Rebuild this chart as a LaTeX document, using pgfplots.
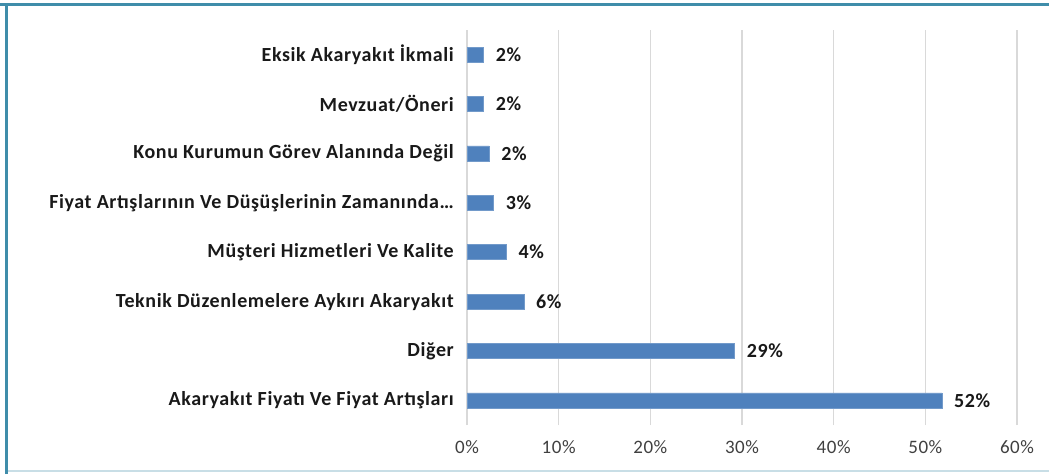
\documentclass[border=0pt]{standalone}
\usepackage{pgfplots}
\pgfplotsset{compat=1.18}
\usepackage{fontspec}
\setmainfont{Carlito}
\newfontfamily\labfont[LetterSpace=3]{Carlito}
\definecolor{barblue}{HTML}{4F81BD}
\definecolor{frameteal}{HTML}{3F8DAA}
\definecolor{framelight}{HTML}{C8DEE6}
\definecolor{gridgray}{HTML}{D9D9D9}
\definecolor{ticktext}{HTML}{404040}
\begin{document}
\begin{tikzpicture}[x=1pt,y=1pt]
\useasboundingbox (0,0) rectangle (1049,474);
\draw[framelight, line width=1.5pt] (6.5,3) -- (1049,3);
\draw[frameteal, line width=3pt] (0,469.5) -- (1049,469.5);
\draw[frameteal, line width=3pt] (6.5,0) -- (6.5,471);
\begin{axis}[
  at={(467pt,49pt)}, anchor=south west,
  scale only axis, width=550pt, height=395pt,
  xbar, bar width=15pt,
  xmin=0, xmax=60, ymin=-0.5, ymax=7.5,
  xtick={0,10,...,60},
  xticklabel={\pgfmathprintnumber{\tick}\%},
  ytick={0,...,7},
  yticklabels={Akaryakıt Fiyatı Ve Fiyat Artışları, Diğer, Teknik Düzenlemelere Aykırı Akaryakıt, Müşteri Hizmetleri Ve Kalite, Fiyat Artışlarının Ve Düşüşlerinin Zamanında…, Konu Kurumun Görev Alanında Değil, Mevzuat/Öneri, Eksik Akaryakıt İkmali},
  xmajorgrids, grid style={gridgray, line width=1.3pt},
  axis line style={draw=none},
  major tick length=0pt,
  /pgf/number format/assume math mode=true,
  yticklabel style={font=\labfont\bfseries\fontsize{20}{22}\selectfont, text=black!90, inner sep=0pt, xshift=-13pt},
  xticklabel style={font=\labfont\fontsize{19}{21}\selectfont, text=ticktext, inner sep=0pt, yshift=-15pt},
  nodes near coords={\pgfmathprintnumber[fixed,precision=0]{\pgfplotspointmeta}\%},
  nodes near coords style={font=\labfont\bfseries\fontsize{20}{22}\selectfont, text=black!90, anchor=west, inner sep=0pt, xshift=12pt},
]
\addplot[fill=barblue, draw=barblue!80!white, line width=0.6pt] coordinates {
  (51.8,0) (29.2,1) (6.2,2) (4.3,3) (2.9,4) (2.4,5) (1.8,6) (1.8,7)
};
\end{axis}
\end{tikzpicture}
\end{document}
